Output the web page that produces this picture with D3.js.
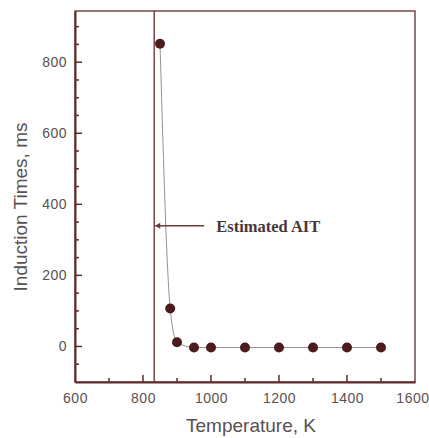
<!DOCTYPE html>
<html>
<head>
<meta charset="utf-8">
<script src="https://cdn.jsdelivr.net/npm/d3@7"></script>
<style>
  body { margin: 0; background: #fff; }
  svg { font-family: "Liberation Sans", Arial, sans-serif; }
</style>
</head>
<body>
<svg></svg>
<script>
// temperature (K) and induction time (ms)
let temps = [850, 880, 900, 950, 1000, 1100, 1200, 1300, 1400, 1500]
let times = [852, 107, 12, -3, -3, -3, -3, -3, -3, -3]
let xTicks = [600, 800, 1000, 1200, 1400, 1600]
let yTicks = [0, 200, 400, 600, 800]
let ait = 833
let aitLabelY = 340

let width = 429
let height = 438
let plotLeft = 75, plotRight = 415, plotTop = 11, plotBottom = 382

let axisColor = "#5e2b2b"
let dotColor = "#4c1c1c"
let textColor = "#5a5050"

let svg = d3.select("svg").attr("width", width).attr("height", height)

let xScale = d3.scaleLinear().domain([600, 1600]).range([plotLeft, plotRight])
let yScale = d3.scaleLinear().domain([-100, 944]).range([plotBottom, plotTop])

let values = temps.map((t, i) => [t, times[i]])

// frame
svg.append("rect")
   .attr("x", plotLeft).attr("y", plotTop)
   .attr("width", plotRight - plotLeft).attr("height", plotBottom - plotTop)
   .attr("fill", "none").attr("stroke", axisColor).attr("stroke-width", 1.3)

// x axis, ticks inward
let xAxis = d3.axisBottom(xScale).tickValues(xTicks).tickSize(0).tickPadding(11).tickFormat(d3.format("d"))
let gx = svg.append("g").attr("transform", "translate(0," + plotBottom + ")").call(xAxis)
gx.select(".domain").attr("stroke", axisColor).attr("stroke-width", 2)
gx.selectAll("text").attr("fill", textColor).attr("font-size", 14).attr("letter-spacing", 0.5)
// last label hugs the right edge like the original
gx.selectAll("text").filter(d => d == 1600).attr("text-anchor", "end").attr("x", 14)
svg.append("g").selectAll("line")
   .data(d3.range(700, 1600, 100))
   .enter().append("line")
   .attr("x1", d => xScale(d)).attr("x2", d => xScale(d))
   .attr("y1", plotBottom).attr("y2", d => plotBottom - (d % 200 == 0 ? 7 : 4))
   .attr("stroke", axisColor).attr("stroke-width", 1.5)

// y axis, ticks inward
let yAxis = d3.axisLeft(yScale).tickValues(yTicks).tickSize(0).tickPadding(8)
let gy = svg.append("g").attr("transform", "translate(" + plotLeft + ",0)").call(yAxis)
gy.select(".domain").attr("stroke", axisColor).attr("stroke-width", 2)
gy.selectAll("text").attr("fill", textColor).attr("font-size", 14).attr("letter-spacing", 0.5)
svg.append("g").selectAll("line")
   .data(d3.range(-50, 950, 50))
   .enter().append("line")
   .attr("x1", plotLeft).attr("x2", d => plotLeft + (d % 200 == 0 ? 7 : 4))
   .attr("y1", d => yScale(d)).attr("y2", d => yScale(d))
   .attr("stroke", axisColor).attr("stroke-width", 1.5)

// estimated AIT line
svg.append("line")
   .attr("x1", xScale(ait)).attr("x2", xScale(ait))
   .attr("y1", plotTop).attr("y2", plotBottom)
   .attr("stroke", "#6a3a3a").attr("stroke-width", 1.4)

// fitted curve
let line = d3.line()
  .x(d => xScale(d[0]))
  .y(d => yScale(d[1]))
  .curve(d3.curveMonotoneX)
svg.append("path")
   .datum(values)
   .attr("d", line)
   .attr("fill", "none")
   .attr("stroke", "#9a8f8f")
   .attr("stroke-width", 1)

svg.selectAll("circle")
   .data(values)
   .enter()
   .append("circle")
   .attr("cx", d => xScale(d[0]))
   .attr("cy", d => yScale(d[1]))
   .attr("r", 5)
   .attr("fill", dotColor)

// arrow + label
let ay = yScale(aitLabelY)
let ax = xScale(ait) + 1
svg.append("line")
   .attr("x1", ax).attr("x2", ax + 49)
   .attr("y1", ay).attr("y2", ay)
   .attr("stroke", "#6a3a3a").attr("stroke-width", 1.5)
svg.append("path")
   .attr("d", "M" + ax + "," + ay + " l5,-3 l0,6 z")
   .attr("fill", "#6a3a3a")
svg.append("text")
   .attr("x", ax + 61).attr("y", ay + 6)
   .attr("font-family", "'Liberation Serif', 'Times New Roman', serif")
   .attr("font-weight", "bold")
   .attr("font-size", 16.5)
   .attr("fill", "#4a3535")
   .text("Estimated AIT")

// axis titles
svg.append("text")
   .attr("x", (plotLeft + plotRight) / 2 + 6).attr("y", 432)
   .attr("text-anchor", "middle")
   .attr("font-size", 19)
   .attr("fill", textColor)
   .text("Temperature, K")

svg.append("text")
   .attr("transform", "translate(27,207) rotate(-90)")
   .attr("text-anchor", "middle")
   .attr("font-size", 19)
   .attr("fill", textColor)
   .text("Induction Times, ms")
</script>
</body>
</html>
